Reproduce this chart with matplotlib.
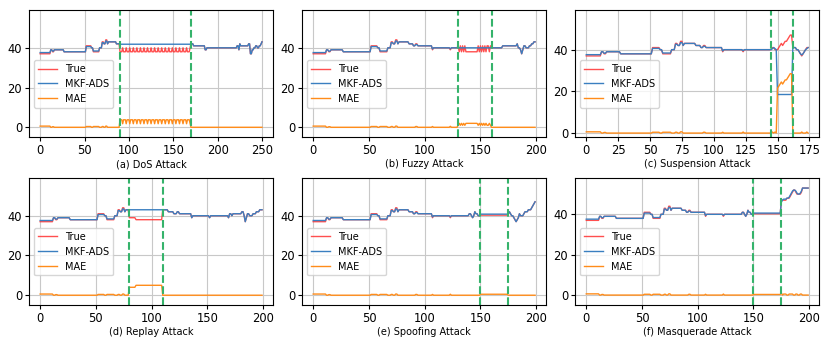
import numpy as np
import matplotlib
matplotlib.use("Agg")
import matplotlib.pyplot as plt

# normal (attack-free) signal, run-length encoded: level, run length
BASE_TRUE = [37, 39, 38, 39, 38, 41, 40, 38, 40, 43, 42, 44, 42, 43, 42, 41, 42, 41, 39, 40, 39, 40]
BASE_PRED = [37.6, 39, 38.3, 39, 38, 40.6, 40, 38.4, 40, 42.6, 42, 43.4, 42, 43, 42, 41, 41.6, 41, 39.4, 40, 39.5, 40]
BASE_RUNS = [12, 2, 2, 11, 25, 6, 2, 7, 3, 2, 2, 2, 1, 9, 4, 2, 2, 13, 1, 15, 1, 21]

# (a) DoS
DOS_ATTACK_TRUE = [38, 38, 38, 40] * 20
DOS_ATTACK_PRED = [41.8] * 80
DOS_TAIL_LEVELS = [42, 41, 39, 40, 41, 39, 42, 41, 42, 37, 39, 40, 41, 40, 41, 42, 43]
DOS_TAIL_RUNS = [3, 13, 2, 34, 2, 1, 1, 9, 2, 2, 2, 2, 2, 2, 2, 1, 1]

# (b) Fuzzy
FUZZY_ATTACK_TRUE = [41, 38, 41, 38, 41, 38, 41, 38, 38, 38, 38, 38, 38, 38, 38,
                     38, 38, 38, 41, 38, 41, 38, 41, 38, 41, 38, 41, 41, 38, 41]
FUZZY_ATTACK_PRED = [40] * 30
FUZZY_TAIL_LEVELS = [40, 41, 42, 40, 39, 37, 39, 41, 40, 41, 42, 43]
FUZZY_TAIL_RUNS = [10, 13, 1, 2, 1, 1, 1, 2, 3, 2, 2, 2]

# (c) Suspension
SUSP_PRE_TRUE = [40, 41, 41, 40, 40]
SUSP_PRE_PRED = [40, 40.5, 41, 40.5, 40]
SUSP_ATTACK_TRUE = [40, 41, 42, 43, 42, 43, 44, 44, 45, 46, 47, 47]
SUSP_ATTACK_PRED = [18.5] * 12
SUSP_TAIL_TRUE = [41, 41, 41, 40, 40, 39, 38, 37, 38, 39, 40, 41, 41]
SUSP_TAIL_PRED = [41, 41, 41, 40, 40, 39, 38, 37.5, 38, 39, 40, 40.5, 41]

# (d) Replay
REPLAY_ATTACK_TRUE = [39] * 6 + [38] * 24
REPLAY_ATTACK_PRED = [43] * 30
REPLAY_TAIL_LEVELS = [43, 42, 41, 42, 41, 39, 40, 39, 40, 39, 41, 40, 41, 42, 40, 37, 39, 41, 40, 41, 42, 43]
REPLAY_TAIL_RUNS = [5, 5, 3, 2, 11, 1, 15, 1, 16, 1, 2, 1, 8, 2, 1, 1, 1, 2, 3, 3, 3, 3]

# (e) Spoofing / (f) Masquerade
LATE_PRE = [41, 41, 40, 39, 40, 42, 41, 41, 40, 40]
SPOOF_ATTACK_TRUE = [40.3] * 25
SPOOF_ATTACK_PRED = [40.8] * 25
SPOOF_TAIL = [41, 42, 41, 40, 40, 39, 38, 37, 38, 39, 41, 40, 40, 40, 41,
              42, 42, 42, 43, 43, 43, 44, 45, 46, 47]
MASQ_ATTACK_TRUE = [40.3] * 25
MASQ_ATTACK_PRED = [40.6] * 25
MASQ_TAIL_TRUE = [47, 47, 47, 47, 47, 48, 48, 48, 49, 50, 51, 52, 52, 51, 50,
                  50, 50, 50, 51, 53, 53, 53, 53, 53, 53]
MASQ_TAIL_PRED = [46, 47, 47.5, 47.5, 47.5, 48, 48, 48.5, 49.5, 50.5, 51.5, 52, 52, 51.5, 50.5,
                  50, 50, 50.5, 51.5, 53, 53, 53, 53, 53, 53]

TITLES = ["(a) DoS Attack", "(b) Fuzzy Attack", "(c) Suspension Attack",
          "(d) Replay Attack", "(e) Spoofing Attack", "(f) Masquerade Attack"]
ATTACK_WINDOWS = [(90, 170), (130, 160), (145, 162), (80, 110), (150, 175), (150, 175)]
YLIMS = [(-5, 59), (-5, 59), (-2, 59), (-5, 59), (-5, 59), (-5, 58)]


def expand(levels, runs):
    return list(np.repeat(levels, runs))


base_true = expand(BASE_TRUE, BASE_RUNS)
base_pred = expand(BASE_PRED, BASE_RUNS)

panels = [
    (base_true[:90] + DOS_ATTACK_TRUE + expand(DOS_TAIL_LEVELS, DOS_TAIL_RUNS),
     base_pred[:90] + DOS_ATTACK_PRED + expand(DOS_TAIL_LEVELS, DOS_TAIL_RUNS)),
    (base_true[:130] + FUZZY_ATTACK_TRUE + expand(FUZZY_TAIL_LEVELS, FUZZY_TAIL_RUNS),
     base_pred[:130] + FUZZY_ATTACK_PRED + expand(FUZZY_TAIL_LEVELS, FUZZY_TAIL_RUNS)),
    (base_true + SUSP_PRE_TRUE + SUSP_ATTACK_TRUE + SUSP_TAIL_TRUE,
     base_pred + SUSP_PRE_PRED + SUSP_ATTACK_PRED + SUSP_TAIL_PRED),
    (base_true[:80] + REPLAY_ATTACK_TRUE + expand(REPLAY_TAIL_LEVELS, REPLAY_TAIL_RUNS),
     base_pred[:80] + REPLAY_ATTACK_PRED + expand(REPLAY_TAIL_LEVELS, REPLAY_TAIL_RUNS)),
    (base_true[:140] + LATE_PRE + SPOOF_ATTACK_TRUE + SPOOF_TAIL,
     base_pred[:140] + LATE_PRE + SPOOF_ATTACK_PRED + SPOOF_TAIL),
    (base_true[:140] + LATE_PRE + MASQ_ATTACK_TRUE + MASQ_TAIL_TRUE,
     base_pred[:140] + LATE_PRE + MASQ_ATTACK_PRED + MASQ_TAIL_PRED),
]

fig, axes = plt.subplots(2, 3, figsize=(8.3, 3.46), dpi=100)
fig.subplots_adjust(left=0.035, right=0.987, top=0.971, bottom=0.118,
                    wspace=0.119, hspace=0.32)

for ax, (y_true, y_pred), title, (a0, a1), ylim in zip(
        axes.flat, panels, TITLES, ATTACK_WINDOWS, YLIMS):
    y_true = np.asarray(y_true, dtype=float)
    y_pred = np.asarray(y_pred, dtype=float)
    x = np.arange(len(y_true))
    ax.plot(x, y_true, color="#ff3030", lw=1.0, alpha=0.85, label="True")
    ax.plot(x, y_pred, color="#3a7fc0", lw=1.0, label="MKF-ADS")
    ax.plot(x, np.abs(y_true - y_pred), color="#ff8c1a", lw=1.0, label="MAE")
    ax.axvline(a0, color="#35b36b", ls="--", lw=1.5)
    ax.axvline(a1, color="#35b36b", ls="--", lw=1.5)
    ax.set_ylim(*ylim)
    ax.set_yticks([0, 20, 40])
    ax.grid(True, color="#c8c8c8", lw=0.8)
    ax.set_axisbelow(True)
    ax.tick_params(labelsize=8.3, length=3, pad=2)
    ax.set_xlabel(title, fontsize=7, labelpad=1.5)
    ax.legend(loc="center left", bbox_to_anchor=(0.0, 0.42), fontsize=7,
              framealpha=0.8)

axes[0, 2].set_xticks([0, 25, 50, 75, 100, 125, 150, 175])

fig.savefig("out.png", dpi=100)
